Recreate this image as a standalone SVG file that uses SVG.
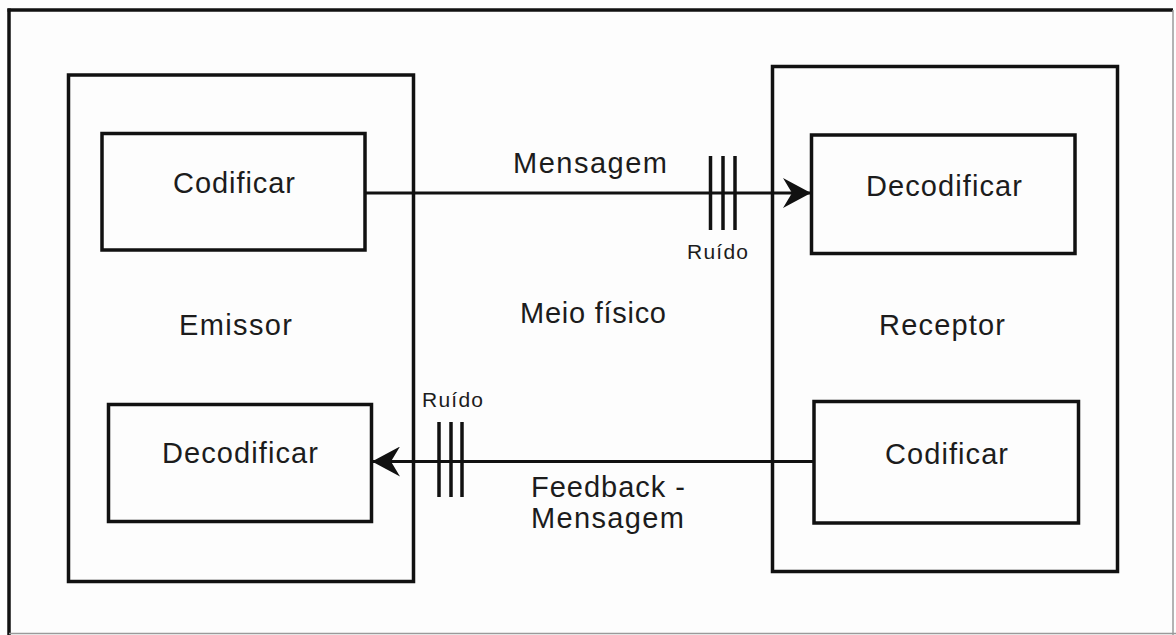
<svg xmlns="http://www.w3.org/2000/svg" width="1176" height="635" viewBox="0 0 1176 635">
  <style>
    .box { fill: none; stroke: #111; stroke-width: 3.5; }
    .wire { fill: none; stroke: #111; stroke-width: 3; }
    .noise { stroke: #111; stroke-width: 3.5; }
    .lbl { font-family: "Liberation Sans", Arial, sans-serif; font-size: 29px; fill: #1c1c1c; text-anchor: middle; }
    .small { font-family: "Liberation Sans", Arial, sans-serif; font-size: 21px; fill: #1c1c1c; text-anchor: middle; }
  </style>
  <defs>
    <marker id="arrow" viewBox="0 0 28 30" refX="28" refY="15" markerWidth="28" markerHeight="30" markerUnits="userSpaceOnUse" orient="auto">
      <path d="M0,0 L28,15 L0,30 L9,15 Z" fill="#111"/>
    </marker>
  </defs>

  <!-- page background and frame -->
  <rect x="0" y="0" width="1176" height="635" fill="#fdfdfd"/>
  <line x1="9" y1="8.5" x2="9" y2="635" stroke="#111" stroke-width="3.5"/>
  <line x1="7.5" y1="10" x2="1173" y2="10" stroke="#111" stroke-width="3.5"/>
  <line x1="1173" y1="10" x2="1173" y2="635" stroke="#9a9a9a" stroke-width="1.5"/>
  <line x1="9" y1="633.5" x2="1176" y2="633.5" stroke="#9a9a9a" stroke-width="1.5"/>

  <!-- sender -->
  <g id="emissor">
    <rect class="box" x="68.5" y="75" width="345" height="506.5"/>
    <text class="lbl" x="235.5" y="335" textLength="113" lengthAdjust="spacing">Emissor</text>
  </g>
  <g id="emissor-codificar">
    <rect class="box" x="102" y="133.5" width="263" height="116.5"/>
    <text class="lbl" x="234" y="193" textLength="122" lengthAdjust="spacing">Codificar</text>
  </g>
  <g id="emissor-decodificar">
    <rect class="box" x="108.5" y="404.5" width="263" height="117"/>
    <text class="lbl" x="240" y="463" textLength="156" lengthAdjust="spacing">Decodificar</text>
  </g>

  <!-- receiver -->
  <g id="receptor">
    <rect class="box" x="772.5" y="66.5" width="345" height="505"/>
    <text class="lbl" x="942" y="335" textLength="126" lengthAdjust="spacing">Receptor</text>
  </g>
  <g id="receptor-decodificar">
    <rect class="box" x="811.5" y="135" width="263.5" height="118.5"/>
    <text class="lbl" x="944" y="196" textLength="156" lengthAdjust="spacing">Decodificar</text>
  </g>
  <g id="receptor-codificar">
    <rect class="box" x="814" y="401.5" width="264.5" height="121.5"/>
    <text class="lbl" x="946.5" y="464" textLength="123" lengthAdjust="spacing">Codificar</text>
  </g>

  <!-- channel label -->
  <g id="meio">
    <text class="lbl" x="593" y="323" textLength="146" lengthAdjust="spacing">Meio físico</text>
  </g>

  <!-- connectors -->
  <g id="connectors">
    <line class="wire" x1="365" y1="193" x2="811" y2="193" marker-end="url(#arrow)"/>
    <line class="wire" x1="814" y1="461.5" x2="372" y2="461.5" marker-end="url(#arrow)"/>

    <g id="noise-forward">
      <line class="noise" x1="710.5" y1="156" x2="710.5" y2="230"/>
      <line class="noise" x1="723" y1="156" x2="723" y2="230"/>
      <line class="noise" x1="735" y1="156" x2="735" y2="230"/>
    </g>
    <g id="noise-back">
      <line class="noise" x1="439" y1="422" x2="439" y2="497"/>
      <line class="noise" x1="451" y1="422" x2="451" y2="497"/>
      <line class="noise" x1="462" y1="422" x2="462" y2="497"/>
    </g>

    <text class="lbl" x="590" y="173" textLength="154" lengthAdjust="spacing">Mensagem</text>
    <text class="small" x="717.5" y="259" textLength="61" lengthAdjust="spacing">Ruído</text>
    <text class="small" x="452.5" y="407" textLength="61" lengthAdjust="spacing">Ruído</text>
    <text class="lbl" x="608" y="497" textLength="154" lengthAdjust="spacing">Feedback -</text>
    <text class="lbl" x="607.5" y="528" textLength="153" lengthAdjust="spacing">Mensagem</text>
  </g>
</svg>
